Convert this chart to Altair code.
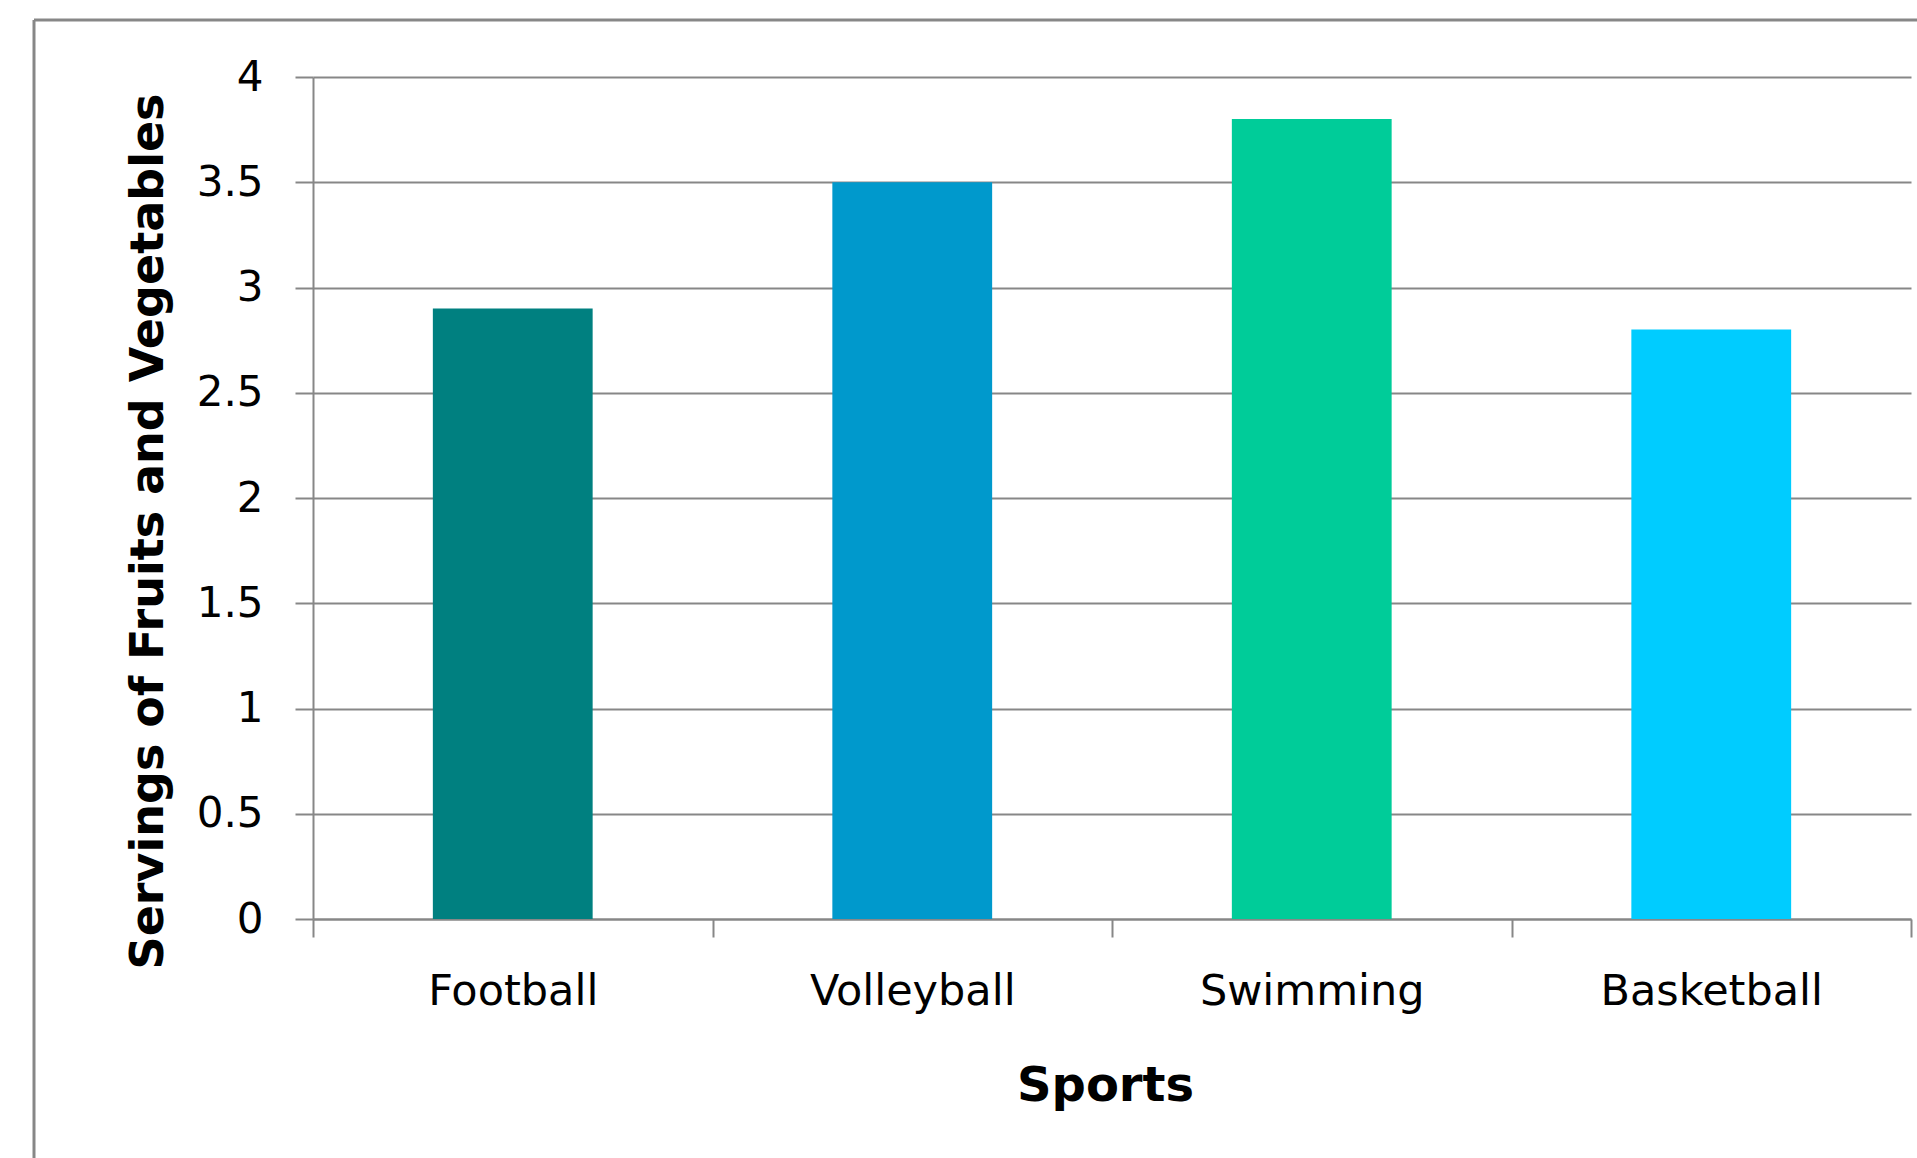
import altair as alt
import pandas as pd

# Data
sports = ["Football", "Volleyball", "Swimming", "Basketball"]
servings = [2.9, 3.5, 3.8, 2.8]
bar_colors = ["#008080", "#0099CC", "#00CC99", "#00CCFF"]
y_ticks = [0, 0.5, 1, 1.5, 2, 2.5, 3, 3.5, 4]

df = pd.DataFrame({"Sport": sports, "Servings": servings})

GRAY = "#878787"
PLOT_W = 1598
PLOT_H = 842

bars = alt.Chart(df).mark_bar(width=alt.RelativeBandSize(0.4)).encode(
    x=alt.X(
        "Sport:N",
        sort=sports,
        scale=alt.Scale(paddingInner=0, paddingOuter=0),
        axis=alt.Axis(
            title="Sports",
            labelAngle=0,
            labelFont="DejaVu Sans",
            labelFontSize=43,
            labelColor="#000000",
            labelPadding=33,
            labelLimit=0,
            tickBand="extent",
            ticks=True,
            tickSize=18,
            tickColor=GRAY,
            tickWidth=2,
            domainColor=GRAY,
            domainWidth=2,
            grid=False,
            titleFont="DejaVu Sans",
            titleFontWeight="bold",
            titleFontSize=48,
            titleColor="#000000",
            titleX=792,
            titleY=181,
            titleBaseline="alphabetic",
            titleAlign="center",
        ),
    ),
    y=alt.Y(
        "Servings:Q",
        scale=alt.Scale(domain=[0, 4], nice=False),
        axis=alt.Axis(
            title="Servings of Fruits and Vegetables",
            values=y_ticks,
            format="~g",
            labelFont="DejaVu Sans",
            labelFontSize=42,
            labelColor="#000000",
            labelPadding=32,
            tickSize=18,
            tickColor=GRAY,
            tickWidth=2,
            domainColor=GRAY,
            domainWidth=2,
            grid=True,
            gridColor=GRAY,
            gridWidth=2,
            titleFont="DejaVu Sans",
            titleFontWeight="bold",
            titleFontSize=46,
            titleColor="#000000",
            titleAngle=270,
            titleX=-151,
            titleY=454,
            titleBaseline="alphabetic",
            titleAlign="center",
        ),
    ),
    color=alt.Color(
        "Sport:N",
        scale=alt.Scale(domain=sports, range=bar_colors),
        legend=None,
    ),
)

frame_df = pd.DataFrame({"k": [0]})
left_border = alt.Chart(frame_df).mark_rule(color=GRAY, strokeWidth=3, clip=False).encode(
    x=alt.value(-279), y=alt.value(-57), y2=alt.value(1081)
)
top_border = alt.Chart(frame_df).mark_rule(color=GRAY, strokeWidth=3, clip=False).encode(
    x=alt.value(-279), x2=alt.value(1604), y=alt.value(-57)
)

chart = (
    alt.layer(bars, left_border, top_border)
    .properties(
        width=PLOT_W,
        height=PLOT_H,
        autosize=alt.AutoSizeParams(type="none"),
        padding={"left": 313, "top": 77, "right": 6, "bottom": 239},
        background="#ffffff",
    )
    .configure_view(stroke=None)
)

chart.save("out.html", embed_options={"renderer": "svg", "actions": False})
